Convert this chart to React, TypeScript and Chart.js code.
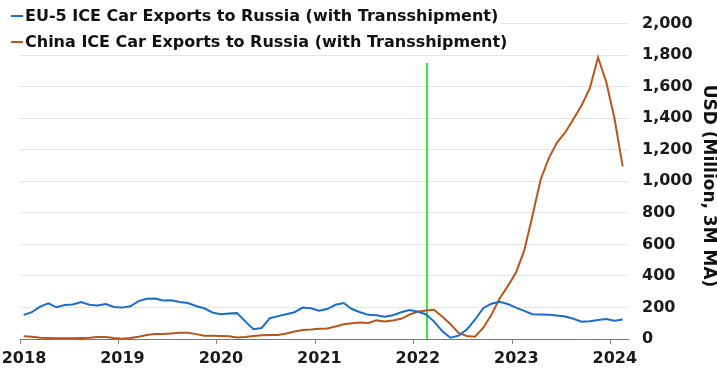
import React, { useEffect, useRef } from "react";
import { Chart, registerables } from "chart.js";

Chart.register(...registerables);

// Monthly series, Jan 2018 .. Feb 2024 (USD million, 3M MA)
const startYear = 2018;
const euLabel = "EU-5 ICE Car Exports to Russia (with Transshipment)";
const chinaLabel = "China ICE Car Exports to Russia (with Transshipment)";
const yTitle = "USD (Million, 3M MA)";

const euValues = [
  153, 170, 205, 226, 201, 215, 219, 234, 217, 213,
  222, 203, 199, 207, 240, 255, 257, 244, 246, 234,
  228, 209, 195, 168, 157, 161, 164, 112, 62, 70,
  132, 145, 157, 170, 199, 195, 180, 190, 217, 228,
  190, 170, 153, 151, 141, 151, 170, 184, 174,
  157, 112, 50, 8, 21, 60, 122, 195, 224, 236,
  222, 199, 178, 157, 155, 153, 149, 143, 128, 110,
  112, 120, 126, 116, 124,
];

const chinaValues = [
  17, 14, 8, 6, 4, 4, 4, 6, 8, 12,
  12, 6, 2, 6, 14, 25, 31, 31, 35, 39,
  39, 31, 21, 21, 19, 17, 10, 12, 19, 23,
  25, 25, 35, 48, 57, 60, 65, 67, 79, 93,
  100, 105, 101, 118, 111, 117, 128, 155, 173,
  180, 186, 143, 95, 39, 19, 14, 70, 153, 257,
  335, 422, 560, 780, 1010, 1147, 1246, 1310, 1395, 1482,
  1590, 1785, 1630, 1400, 1095,
];

const yearTicks = [2018, 2019, 2020, 2021, 2022, 2023, 2024];
const yTicks = [0, 200, 400, 600, 800, 1000, 1200, 1400, 1600, 1800, 2000];

// Marker: late Feb 2022 (months since Jan 2018)
const markerMonth = 49.6;
const markerTop = 1750;

const EU_COLOR = "#1c6cc8";
const CN_COLOR = "#b5561d";
const FONT = '"DejaVu Sans", Verdana, sans-serif';

const overlayPlugin = {
  id: "overlay",
  afterDraw(chart: any) {
    const ctx = chart.ctx as CanvasRenderingContext2D;
    ctx.save();
    ctx.font = `bold 16px ${FONT}`;
    ctx.textBaseline = "middle";
    const rows = [
      { label: euLabel, color: EU_COLOR },
      { label: chinaLabel, color: CN_COLOR },
    ];
    rows.forEach((row, i) => {
      const y = 16 + i * 26;
      const w = ctx.measureText(row.label).width;
      ctx.fillStyle = "#ffffff";
      ctx.fillRect(8, y - 11, 25 - 8 + w + 3, 22);
      ctx.strokeStyle = row.color;
      ctx.lineWidth = 2;
      ctx.beginPath();
      ctx.moveTo(11, y);
      ctx.lineTo(23, y);
      ctx.stroke();
      ctx.fillStyle = "#111111";
      ctx.textAlign = "left";
      ctx.fillText(row.label, 25, y + 1);
    });
    ctx.translate(708, 186);
    ctx.rotate(Math.PI / 2);
    ctx.font = `bold 17px ${FONT}`;
    ctx.textAlign = "center";
    ctx.fillStyle = "#111111";
    ctx.fillText(yTitle, 0, 0);
    ctx.restore();
  },
};

export default function App() {
  const canvasRef = useRef<HTMLCanvasElement | null>(null);

  useEffect(() => {
    if (!canvasRef.current) return;
    const toPoints = (vals: number[]) =>
      vals.map((v, i) => ({ x: i + 0.45, y: v }));
    const chart = new Chart(canvasRef.current, {
      type: "line",
      data: {
        datasets: [
          {
            label: euLabel,
            data: toPoints(euValues),
            borderColor: EU_COLOR,
            borderWidth: 2,
            pointRadius: 0,
            tension: 0,
          },
          {
            label: chinaLabel,
            data: toPoints(chinaValues),
            borderColor: CN_COLOR,
            borderWidth: 2,
            pointRadius: 0,
            tension: 0,
          },
          {
            label: "marker",
            data: [
              { x: markerMonth, y: 0 },
              { x: markerMonth, y: markerTop },
            ],
            borderColor: "#3fe63f",
            borderWidth: 2,
            pointRadius: 0,
          },
        ],
      },
      options: {
        responsive: false,
        animation: false,
        events: [],
        layout: { padding: { left: 20, top: 16, right: 0, bottom: 0 } },
        plugins: {
          legend: { display: false },
          tooltip: { enabled: false },
        },
        scales: {
          x: {
            type: "linear",
            min: 0,
            max: 74.1,
            afterBuildTicks: (scale: any) => {
              scale.ticks = yearTicks.map((y) => ({ value: (y - startYear) * 12 }));
            },
            afterFit: (scale: any) => {
              scale.height = 36;
              scale.paddingLeft = 0;
              scale.paddingRight = 0;
            },
            grid: {
              drawOnChartArea: false,
              drawTicks: true,
              tickLength: 5,
              color: "#888888",
            },
            border: { display: true, color: "#777777", width: 1 },
            ticks: {
              autoSkip: false,
              maxRotation: 0,
              labelOffset: 4,
              padding: 5,
              color: "#1a1a1a",
              font: { family: FONT, size: 16, weight: "bold" },
              callback: (v: any) => String(startYear + Math.round(Number(v) / 12)),
            },
          },
          y: {
            position: "right",
            min: 0,
            max: 2000,
            afterBuildTicks: (scale: any) => {
              scale.ticks = yTicks.map((v) => ({ value: v }));
            },
            afterFit: (scale: any) => {
              scale.width = 89;
            },
            grid: {
              drawTicks: false,
              color: "#e4e4e4",
              lineWidth: 1,
            },
            border: { display: false },
            ticks: {
              padding: 14,
              color: "#1a1a1a",
              font: { family: FONT, size: 16, weight: "bold" },
              callback: (v: any) => Number(v).toLocaleString("en-US"),
            },
          },
        },
      },
      plugins: [overlayPlugin],
    });
    return () => chart.destroy();
  }, []);

  return (
    <div style={{ position: "fixed", left: 0, top: 0, width: 717, height: 375, background: "#fff" }}>
      <canvas ref={canvasRef} width={717} height={375} style={{ display: "block" }} />
    </div>
  );
}
